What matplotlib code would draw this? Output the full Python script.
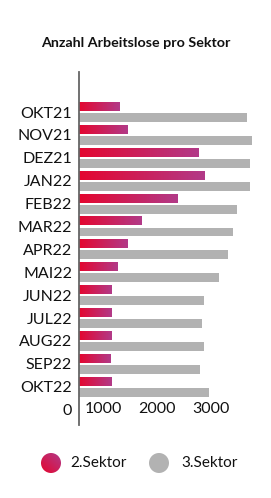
import matplotlib
matplotlib.use('Agg')
import matplotlib.pyplot as plt
import numpy as np
from matplotlib.colors import LinearSegmentedColormap
from matplotlib.patches import Circle

plt.rcParams['font.family'] = ['Lato', 'DejaVu Sans']

# data
months = ['OKT21', 'NOV21', 'DEZ21', 'JAN22', 'FEB22', 'MAR22', 'APR22',
          'MAI22', 'JUN22', 'JUL22', 'AUG22', 'SEP22', 'OKT22']
sektor2 = [1290, 1450, 2780, 2880, 2380, 1700, 1450, 1250, 1140, 1140, 1140, 1130, 1140]
sektor3 = [3680, 3770, 3740, 3740, 3500, 3420, 3320, 3160, 2870, 2840, 2870, 2800, 2970]
xticks = [1000, 2000, 3000]

W, H = 271, 498
red_cmap = LinearSegmentedColormap.from_list('rp', ['#e4062f', '#b23a88'])
gray = '#b2b2b2'
txt = '#111111'

fig = plt.figure(figsize=(W / 100, H / 100), dpi=100)
ax = fig.add_axes([79 / W, 1 - 425 / H, (259 - 79) / W, (425 - 72) / H])

xmin, xmax = 534, 3910
y = np.arange(len(months))
off, h = 0.24, 0.39
grad = np.linspace(0, 1, 256).reshape(1, -1)

for i in range(len(months)):
    # gradient bar for sector 2
    ax.imshow(grad, cmap=red_cmap, aspect='auto', interpolation='bilinear',
              extent=[xmin, sektor2[i], y[i] - off + h / 2, y[i] - off - h / 2], zorder=2)
ax.barh(y + off, sektor3, height=h, color=gray, zorder=2)

ax.set_xlim(xmin, xmax)
ax.set_ylim(12 + 1.67, -1.75)

# "0" ends up as an extra row label, as in the original
ax.set_yticks(list(y) + [13])
ax.set_yticklabels(months + ['0'])
ax.set_xticks(xticks)
ax.set_xticklabels([str(t) for t in xticks])
ax.tick_params(axis='y', length=0, pad=5, labelsize=11.5, colors=txt)
ax.tick_params(axis='x', length=0, pad=-11.5, labelsize=11.5, colors=txt)
for lbl in ax.get_xticklabels():
    lbl.set_va('center')

for s in ['top', 'right', 'bottom']:
    ax.spines[s].set_visible(False)
ax.spines['left'].set_color('#666666')
ax.spines['left'].set_linewidth(1.3)

fig.text(135.5 / W, 1 - 43 / H, 'Anzahl Arbeitslose pro Sektor', ha='center', va='center',
         fontsize=10.3, fontweight='bold', color=txt)

# legend drawn in pixel space
lax = fig.add_axes([0, 0, 1, 1])
lax.set_xlim(0, W)
lax.set_ylim(H, 0)
lax.axis('off')

r = 10
c1 = Circle((51, 463), r, facecolor='none', edgecolor='none')
lax.add_patch(c1)
gx, gy = np.meshgrid(np.linspace(0, 1, 64), np.linspace(0, 1, 64))
diag = (gx + gy) / 2
img = lax.imshow(diag, cmap=red_cmap, extent=[51 - r, 51 + r, 463 + r, 463 - r],
                 origin='lower', interpolation='bilinear')
img.set_clip_path(c1)
lax.add_patch(Circle((159, 463), r, facecolor=gray, edgecolor='none'))
lax.set_xlim(0, W)
lax.set_ylim(H, 0)
lax.text(70, 463, '2.Sektor', va='center', ha='left', fontsize=11, color=txt)
lax.text(181, 463, '3.Sektor', va='center', ha='left', fontsize=11, color=txt)

fig.savefig('out.png', dpi=100, facecolor='white')
